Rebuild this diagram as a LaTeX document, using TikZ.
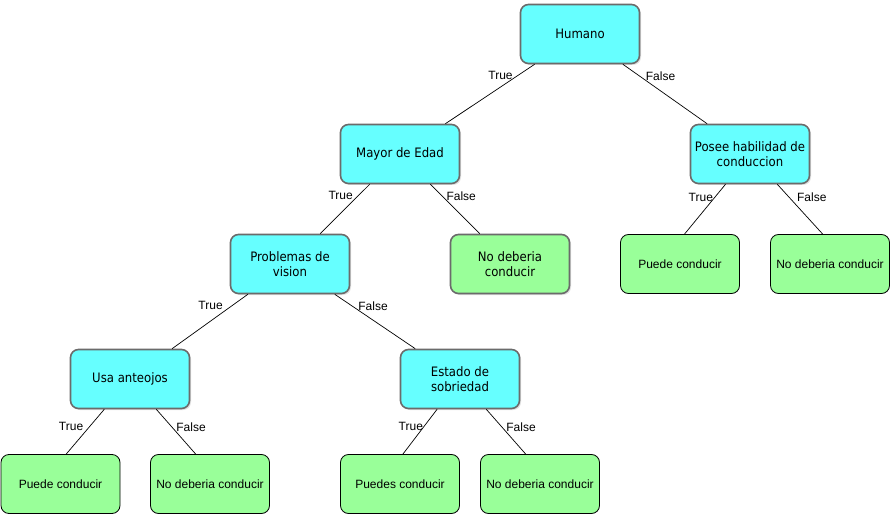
\documentclass[tikz,border=0pt]{standalone}
\usepackage{fontspec}
\setmainfont{Liberation Sans}
\newfontfamily\decfont{DejaVu Sans}[FakeStretch=0.9]
\usetikzlibrary{shadows}
\definecolor{cyanfill}{HTML}{66FFFF}
\definecolor{greenfill}{HTML}{99FF99}
\definecolor{bordergray}{HTML}{6B6B6B}
\begin{document}
\begin{tikzpicture}[x=1pt,y=-1pt,
  decision/.style={rectangle, rounded corners=8pt, draw=bordergray, line width=1.6pt, fill=cyanfill, minimum width=119pt, minimum height=59pt, inner sep=2pt, align=center, font=\decfont\fontsize{13}{14.7}\selectfont, drop shadow={shadow xshift=1.5pt, shadow yshift=-1.5pt, opacity=0.25}},
  greendec/.style={decision, fill=greenfill},
  leaf/.style={rectangle, rounded corners=8pt, draw=black, line width=0.8pt, fill=greenfill, minimum width=119pt, minimum height=59pt, inner sep=2pt, align=center, font=\fontsize{12}{14}\selectfont},
  edge/.style={draw=black, line width=0.7pt},
  tl/.style={anchor=east, inner sep=0pt, font=\fontsize{12}{14}\selectfont},
  fl/.style={anchor=west, inner sep=0pt, font=\fontsize{12}{14}\selectfont}]
\useasboundingbox[fill=white] (0,0) rectangle (892,516);

\node[decision] (humano) at (580,34) {Humano};
\node[decision] (mayor) at (400,154) {Mayor de Edad};
\node[decision] (posee) at (750,154) {Posee habilidad de\\conduccion};
\node[decision] (prob) at (290,264) {Problemas de\\vision};
\node[greendec] (nodeb) at (510,264) {No deberia\\conducir};
\node[leaf] (puedeR) at (680,264) {Puede conducir};
\node[leaf] (nodebR) at (830,264) {No deberia conducir};
\node[decision] (usa) at (130,379) {Usa anteojos};
\node[decision] (estado) at (460,379) {Estado de\\sobriedad};
\node[leaf] (puede1) at (60.5,484) {Puede conducir};
\node[leaf] (nodeb1) at (210,484) {No deberia conducir};
\node[leaf] (puedes) at (400,484) {Puedes conducir};
\node[leaf] (nodeb2) at (540,484) {No deberia conducir};

\draw[edge] (humano) -- (mayor) node[tl, pos=0.195, xshift=-4.2pt] {True};
\draw[edge] (humano) -- (posee) node[fl, pos=0.195, xshift=6.2pt] {False};
\draw[edge] (mayor) -- (prob) node[tl, pos=0.226, xshift=-5.4pt] {True};
\draw[edge] (mayor) -- (nodeb) node[fl, pos=0.24, xshift=4pt] {False};
\draw[edge] ([xshift=-24.5pt]posee.south) -- ([xshift=4.5pt]puedeR.north) node[tl, pos=0.254, xshift=-1.8pt] {True};
\draw[edge] ([xshift=27.3pt]posee.south) -- ([xshift=-7.3pt]nodebR.north) node[fl, pos=0.254, xshift=7.9pt] {False};
\draw[edge] (prob) -- (usa) node[tl, pos=0.213, xshift=-8.7pt] {True};
\draw[edge] (prob) -- (estado) node[fl, pos=0.213, xshift=6.1pt] {False};
\draw[edge] ([xshift=-25.7pt]usa.south) -- ([xshift=5.7pt]puede1.north) node[tl, pos=0.393, xshift=-5.8pt] {True};
\draw[edge] ([xshift=26.3pt]usa.south) -- ([xshift=-14.3pt]nodeb1.north) node[fl, pos=0.393, xshift=4.2pt] {False};
\draw[edge] ([xshift=-22.9pt]estado.south) -- ([xshift=2.9pt]puedes.north) node[tl, pos=0.378, xshift=-0.9pt] {True};
\draw[edge] ([xshift=26.3pt]estado.south) -- ([xshift=-14.3pt]nodeb2.north) node[fl, pos=0.393, xshift=4.2pt] {False};
\end{tikzpicture}
\end{document}
